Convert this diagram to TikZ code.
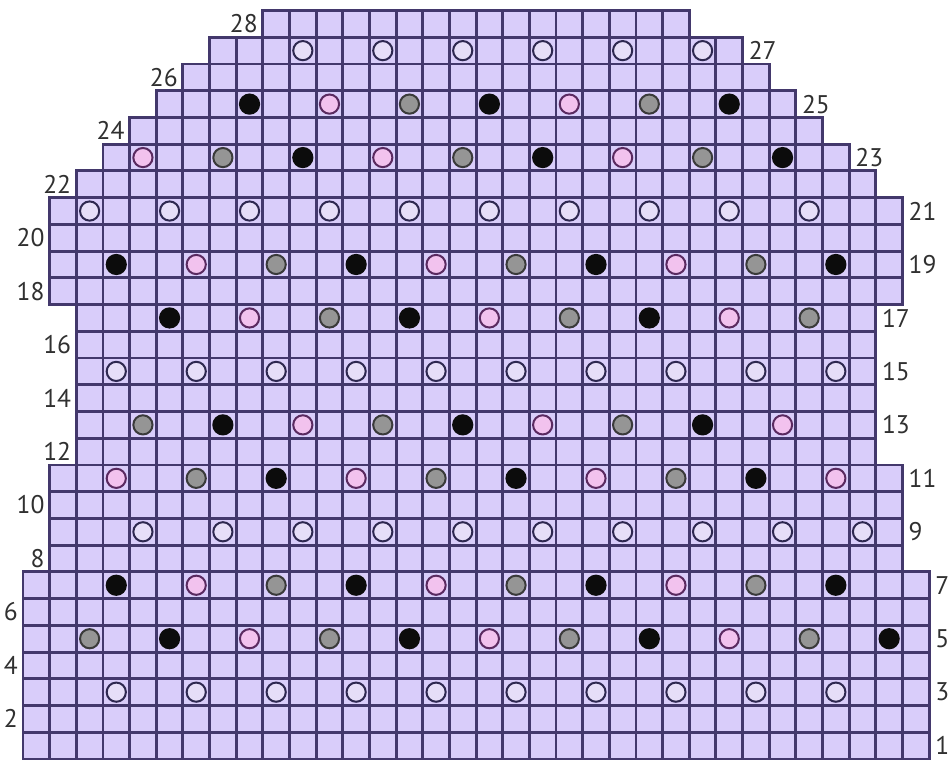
\documentclass[tikz,border=0pt]{standalone}
\usepackage{fontspec}
\setmainfont{PT Sans}
\definecolor{cellfill}{HTML}{D9CDFA}
\definecolor{gridline}{HTML}{43386C}
\definecolor{lightdot}{HTML}{E6DEF8}
\definecolor{lightrim}{HTML}{2E2850}
\definecolor{pinkdot}{HTML}{F2C2EE}
\definecolor{pinkrim}{HTML}{5A2A60}
\definecolor{graydot}{HTML}{959595}
\definecolor{grayrim}{HTML}{3A3A3A}
\definecolor{blackdot}{HTML}{0C0C0C}
\definecolor{labelcol}{HTML}{303030}
\tikzset{
  cellbox/.style={fill=cellfill, draw=gridline, line width=2.9pt},
  ldot/.style={fill=lightdot, draw=lightrim, line width=2pt},
  pdot/.style={fill=pinkdot, draw=pinkrim, line width=2pt},
  gdot/.style={fill=graydot, draw=grayrim, line width=2pt},
  bdot/.style={fill=blackdot, draw=blackdot, line width=2pt},
  leftlab/.style={anchor=east, inner sep=0pt, xshift=-5pt, text=labelcol, font=\fontsize{25.5}{25.5}\selectfont},
  rightlab/.style={anchor=west, inner sep=0pt, xshift=6pt, text=labelcol, font=\fontsize{25.5}{25.5}\selectfont}
}
\newcommand{\dotrow}[3]{\foreach \c in {#2} \draw[#3] (\c+0.5,#1-0.5) circle[radius=9.6pt];}
\begin{document}
\begin{tikzpicture}[x=26.65pt,y=26.73pt]
\useasboundingbox (-0.863,-0.0748) rectangle (34.784,28.395);
% grid rows: row / first col / last col
\foreach \r/\a/\b in {1/0/33,2/0/33,3/0/33,4/0/33,5/0/33,6/0/33,7/0/33,
  8/1/32,9/1/32,10/1/32,11/1/32,
  12/2/31,13/2/31,14/2/31,15/2/31,16/2/31,17/2/31,
  18/1/32,19/1/32,20/1/32,21/1/32,
  22/2/31,23/3/30,24/4/29,25/5/28,26/6/27,27/7/26,28/9/24}
  {\foreach \c in {\a,...,\b} \draw[cellbox] (\c,\r-1) rectangle ++(1,1);}
% dots
\dotrow{3}{3,6,...,30}{ldot}
\dotrow{5}{2,11,20,29}{gdot}
\dotrow{5}{5,14,23,32}{bdot}
\dotrow{5}{8,17,26}{pdot}
\dotrow{7}{3,12,21,30}{bdot}
\dotrow{7}{6,15,24}{pdot}
\dotrow{7}{9,18,27}{gdot}
\dotrow{9}{4,7,...,31}{ldot}
\dotrow{11}{3,12,21,30}{pdot}
\dotrow{11}{6,15,24}{gdot}
\dotrow{11}{9,18,27}{bdot}
\dotrow{13}{4,13,22}{gdot}
\dotrow{13}{7,16,25}{bdot}
\dotrow{13}{10,19,28}{pdot}
\dotrow{15}{3,6,...,30}{ldot}
\dotrow{17}{5,14,23}{bdot}
\dotrow{17}{8,17,26}{pdot}
\dotrow{17}{11,20,29}{gdot}
\dotrow{19}{3,12,21,30}{bdot}
\dotrow{19}{6,15,24}{pdot}
\dotrow{19}{9,18,27}{gdot}
\dotrow{21}{2,5,...,29}{ldot}
\dotrow{23}{4,13,22}{pdot}
\dotrow{23}{7,16,25}{gdot}
\dotrow{23}{10,19,28}{bdot}
\dotrow{25}{8,17,26}{bdot}
\dotrow{25}{11,20}{pdot}
\dotrow{25}{14,23}{gdot}
\dotrow{27}{10,13,...,25}{ldot}
% row labels
\foreach \r/\e in {2/0,4/0,6/0,8/1,10/1,12/2,14/2,16/2,18/1,20/1,22/2,24/4,26/6,28/9}
  \node[leftlab] (L\r) at (\e,\r-0.5) {\r};
\foreach \r/\e in {1/34,3/34,5/34,7/34,9/33,11/33,13/32,15/32,17/32,19/33,21/33,23/31,25/29,27/27}
  \node[rightlab] (R\r) at (\e,\r-0.5) {\r};
\end{tikzpicture}
\end{document}
